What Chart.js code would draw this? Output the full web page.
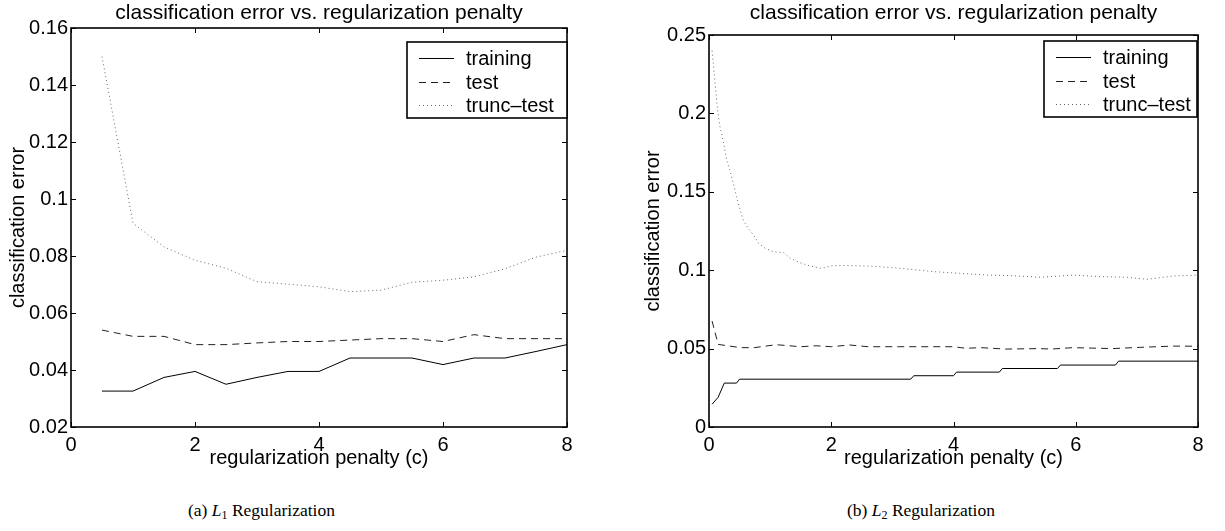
<!DOCTYPE html>
<html>
<head>
<meta charset="utf-8">
<script src="https://cdn.jsdelivr.net/npm/chart.js@4"></script>
<style>
    body { margin: 0; background: #fff; width: 1225px; height: 531px; position: relative; overflow: hidden; }
    canvas { position: absolute; top: 0; }
    #l1Chart { left: 0; }
    #l2Chart { left: 637px; }
    .caption { position: absolute; top: 500px; font-family: "Liberation Serif", "Times New Roman", serif; font-size: 17.5px; white-space: nowrap; color: #000; }
    .caption sub { font-size: 12px; vertical-align: -3px; line-height: 0; }
</style>
</head>
<body>
<canvas id="l1Chart" width="600" height="480"></canvas>
<canvas id="l2Chart" width="588" height="480"></canvas>
<div class="caption" style="left:188px">(a) <i>L</i><sub>1</sub> Regularization</div>
<div class="caption" style="left:847px">(b) <i>L</i><sub>2</sub> Regularization</div>
<script>
// ---- (a) L1 regularization ----
const l1Penalty = [0.5, 1, 1.5, 2, 2.5, 3, 3.5, 4, 4.5, 5, 5.5, 6, 6.5, 7, 7.5, 8];
const l1Training = [0.0326, 0.0326, 0.0374, 0.0395, 0.035, 0.0374, 0.0395, 0.0395, 0.0442, 0.0442, 0.0442, 0.0419, 0.0442, 0.0442, 0.0465, 0.0489];
const l1Test = [0.054, 0.0518, 0.0518, 0.0489, 0.0489, 0.0495, 0.05, 0.05, 0.0505, 0.051, 0.051, 0.05, 0.0524, 0.051, 0.051, 0.051];
const l1Trunc = [0.150, 0.0915, 0.0832, 0.0785, 0.0757, 0.071, 0.0701, 0.0692, 0.0675, 0.068, 0.0708, 0.0715, 0.0727, 0.0755, 0.0796, 0.082];

// ---- (b) L2 regularization ----
const l2TrainX = [0.05, 0.15, 0.25, 0.45, 0.5, 3.3, 3.35, 4.0, 4.05, 4.75, 4.8, 5.7, 5.75, 6.65, 6.7, 8.0];
const l2Training = [0.0145, 0.019, 0.028, 0.028, 0.0305, 0.0305, 0.0327, 0.0327, 0.035, 0.035, 0.0373, 0.0373, 0.0395, 0.0395, 0.042, 0.042];
const l2TestX = [0.05, 0.15, 0.3, 0.52, 0.74, 1.1, 1.5, 1.75, 2.0, 2.3, 2.6, 3.1, 3.6, 4.0, 4.2, 4.45, 4.85, 5.4, 5.6, 5.95, 6.4, 6.6, 7.05, 7.6, 8.0];
const l2Test = [0.0676, 0.0527, 0.0518, 0.0506, 0.0506, 0.0525, 0.0512, 0.0518, 0.0512, 0.0523, 0.0512, 0.0512, 0.0512, 0.0512, 0.0502, 0.0506, 0.0497, 0.05, 0.0497, 0.0506, 0.0502, 0.05, 0.0508, 0.0516, 0.0515];
const l2TruncX = [0.05, 0.07, 0.1, 0.14, 0.18, 0.23, 0.29, 0.34, 0.4, 0.45, 0.51, 0.56, 0.64, 0.73, 0.81, 0.92, 1.05, 1.22, 1.33, 1.49, 1.65, 1.84, 2.03, 2.25, 2.7, 3.13, 3.67, 4.1, 4.55, 4.9, 5.42, 5.96, 6.4, 6.84, 7.16, 7.6, 8.0];
const l2Trunc = [0.240, 0.232, 0.219, 0.202, 0.1915, 0.183, 0.170, 0.164, 0.1554, 0.1469, 0.1384, 0.132, 0.1267, 0.1224, 0.1172, 0.114, 0.1118, 0.1112, 0.1076, 0.1048, 0.1027, 0.1012, 0.1029, 0.103, 0.1025, 0.1012, 0.0991, 0.098, 0.0969, 0.0966, 0.0955, 0.0969, 0.0959, 0.0955, 0.0942, 0.0963, 0.0969];

const seriesLabels = ["training", "test", "trunc–test"];
const xTicks = [0, 2, 4, 6, 8];

const FONT = "'Liberation Sans', Arial, Helvetica, sans-serif";

const pts = (xs, ys) => xs.map((x, i) => ({ x: x, y: ys[i] }));

// matlab style box with inward ticks on every side
const axesBox = {
    id: "axesBox",
    afterDraw(chart) {
        const ctx = chart.ctx;
        const a = chart.chartArea;
        const xs = chart.scales.x, ys = chart.scales.y;
        ctx.save();
        ctx.strokeStyle = "#000";
        ctx.lineWidth = 1;
        ctx.beginPath();
        xs.ticks.forEach((t) => {
            const px = Math.round(xs.getPixelForValue(t.value)) + 0.5;
            ctx.moveTo(px, a.bottom); ctx.lineTo(px, a.bottom - 5);
            ctx.moveTo(px, a.top); ctx.lineTo(px, a.top + 5);
        });
        ys.ticks.forEach((t) => {
            const py = Math.round(ys.getPixelForValue(t.value)) + 0.5;
            ctx.moveTo(a.left, py); ctx.lineTo(a.left + 5, py);
            ctx.moveTo(a.right, py); ctx.lineTo(a.right - 5, py);
        });
        ctx.stroke();
        ctx.lineWidth = 1.6;
        ctx.strokeRect(a.left, a.top, a.right - a.left, a.bottom - a.top);
        ctx.restore();
    },
};

// legend drawn inside the plot, top right
const boxLegend = {
    id: "boxLegend",
    afterDraw(chart, args, opts) {
        const ctx = chart.ctx;
        const a = chart.chartArea;
        const x0 = a.right - opts.right - opts.width;
        const y0 = a.top + opts.top;
        const h = 76;
        ctx.save();
        ctx.fillStyle = "#fff";
        ctx.fillRect(x0, y0, opts.width, h);
        ctx.strokeStyle = "#000";
        ctx.lineWidth = 1.6;
        ctx.strokeRect(x0, y0, opts.width, h);
        ctx.font = "20px " + FONT;
        ctx.textBaseline = "middle";
        chart.data.datasets.forEach((ds, i) => {
            const y = Math.round(y0 + 16 + i * 23.5) + 0.5;
            ctx.strokeStyle = ds.borderColor;
            ctx.lineWidth = 1;
            ctx.setLineDash(ds.borderDash || []);
            ctx.beginPath();
            ctx.moveTo(x0 + 12, y);
            ctx.lineTo(x0 + 47, y);
            ctx.stroke();
            ctx.setLineDash([]);
            ctx.fillStyle = "#000";
            ctx.fillText(ds.label, x0 + 59, y + 1);
        });
        ctx.restore();
    },
};

const makeDatasets = (train, test, trunc) => [
    { label: seriesLabels[0], data: train, borderColor: "#000", borderWidth: 1, pointRadius: 0, tension: 0 },
    { label: seriesLabels[1], data: test, borderColor: "#222", borderWidth: 1, borderDash: [7, 5], pointRadius: 0, tension: 0 },
    { label: seriesLabels[2], data: trunc, borderColor: "#666", borderWidth: 1, borderDash: [1, 3], pointRadius: 0, tension: 0 },
];

const makeChart = (id, datasets, yMin, yMax, yStep, yWidth, titleBottom, padRight, yTitlePad, legendOpts) => {
    const ctx = document.getElementById(id).getContext("2d");
    return new Chart(ctx, {
        type: "line",
        data: { datasets: datasets },
        options: {
            responsive: false,
            animation: false,
            layout: { padding: { left: 0, right: padRight, top: 0, bottom: 0 } },
            plugins: {
                legend: { display: false },
                tooltip: { enabled: false },
                title: {
                    display: true,
                    fullSize: false, // center over the plot box, like matlab
                    text: "classification error vs. regularization penalty",
                    color: "#000",
                    font: { family: FONT, size: 21, weight: "normal" },
                    padding: { top: 0.5, bottom: titleBottom },
                },
                boxLegend: legendOpts,
            },
            scales: {
                x: {
                    type: "linear",
                    min: 0,
                    max: 8,
                    afterBuildTicks: (scale) => {
                        scale.ticks = xTicks.map((v) => ({ value: v }));
                    },
                    afterFit: (scale) => { scale.height = 53; },
                    grid: { display: false, drawTicks: false },
                    border: { display: false },
                    ticks: { color: "#000", padding: 6, font: { family: FONT, size: 20 }, maxRotation: 0 },
                    title: {
                        display: true,
                        text: "regularization penalty (c)",
                        color: "#000",
                        font: { family: FONT, size: 20 },
                        padding: { top: 0, bottom: 10 },
                    },
                },
                y: {
                    min: yMin,
                    max: yMax,
                    afterFit: (scale) => { scale.width = yWidth; },
                    grid: { display: false, drawTicks: false },
                    border: { display: false },
                    ticks: {
                        stepSize: yStep,
                        color: "#000",
                        padding: 3,
                        font: { family: FONT, size: 20 },
                        callback: (v) => String(+v.toFixed(2)),
                    },
                    title: {
                        display: true,
                        text: "classification error",
                        color: "#000",
                        font: { family: FONT, size: 20 },
                        padding: { top: yTitlePad, bottom: 0 },
                    },
                },
            },
        },
        plugins: [axesBox, boxLegend],
    });
};

window.addEventListener("load", () => {
    makeChart(
        "l1Chart",
        makeDatasets(pts(l1Penalty, l1Training), pts(l1Penalty, l1Test), pts(l1Penalty, l1Trunc)),
        0.02, 0.16, 0.02, 71, 2.3, 33, 6,
        { width: 160, right: 0, top: 14 }
    );
    makeChart(
        "l2Chart",
        makeDatasets(pts(l2TrainX, l2Training), pts(l2TestX, l2Test), pts(l2TruncX, l2Trunc)),
        0, 0.25, 0.05, 72, 9.3, 27, 4,
        { width: 153, right: 1, top: 6 }
    );
});
</script>
</body>
</html>
